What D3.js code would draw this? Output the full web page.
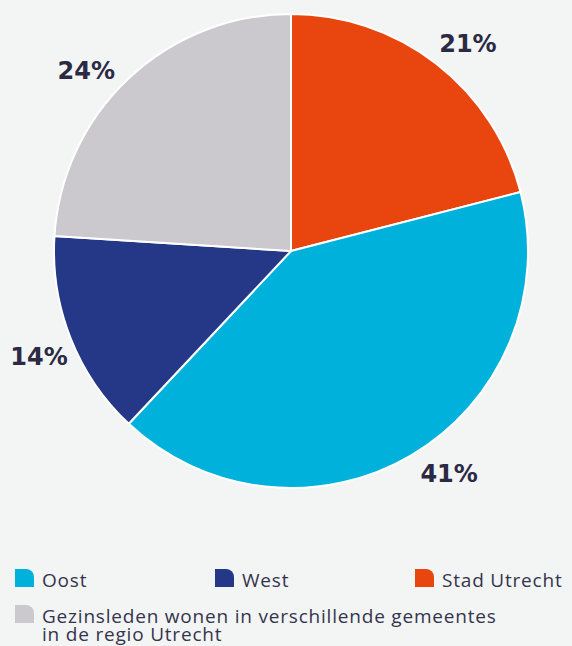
<!DOCTYPE html>
<html>
<head>
<meta charset="utf-8">
<script src="https://cdn.jsdelivr.net/npm/d3@7"></script>
<style>
  body { margin: 0; background: #f3f4f4; }
  svg { display: block; }
  .pct { font-family: "DejaVu Sans", sans-serif; font-weight: bold; font-size: 24px; fill: #2b2a45; }
  .leg { font-family: "Open Sans", sans-serif; font-size: 19px; letter-spacing: 0.8px; fill: #35344d; }
</style>
</head>
<body>
<svg width="572" height="646"></svg>
<script>
// **** data ****
var categories = ["Stad Utrecht", "Oost", "West", "Gezinsleden wonen in verschillende gemeentes in de regio Utrecht"];
var shares = [21, 41, 14, 24];
var colors = ["#e8450f", "#00b2db", "#253787", "#cbc8ce"];

// legend order as in the picture
var legendOrder = [1, 2, 0, 3];
var legendLines = [["Oost"], ["West"], ["Stad Utrecht"], ["Gezinsleden wonen in verschillende gemeentes", "in de regio Utrecht"]];

// small angular nudges (degrees) for the percentage labels, same order as shares
var labelNudge = [2.6, -4.8, -1, -5.4];

var svg = d3.select("svg");
var cx = 291, cy = 251, radius = 237, labelRadius = 273;

var pie = d3.pie().sort(null).value(function(d) { return d; });
var arc = d3.arc().innerRadius(0).outerRadius(radius);

var g = svg.append("g").attr("transform", "translate(" + cx + "," + cy + ")");
var arcs = pie(shares);

g.selectAll("path.slice")
    .data(arcs)
    .enter()
    .append("path")
    .attr("class", "slice")
    .attr("d", arc)
    .attr("fill", function(d, i) { return colors[i]; })
    .attr("stroke", "#ffffff")
    .attr("stroke-width", 2);

g.selectAll("text.pct")
    .data(arcs)
    .enter()
    .append("text")
    .attr("class", "pct")
    .attr("text-anchor", "middle")
    .attr("dy", "0.36em")
    .attr("transform", function(d, i) {
        var a = (d.startAngle + d.endAngle) / 2 + labelNudge[i] * Math.PI / 180;
        return "translate(" + (labelRadius * Math.sin(a)) + "," + (-labelRadius * Math.cos(a)) + ")";
    })
    .text(function(d) { return d.data + "%"; });

// legend
var legendPos = [[15, 569], [215, 569], [415, 569], [15, 605]];
var marker = "M0,0 H11 A8,8 0 0 1 19,8 V18 H0 Z";

legendOrder.forEach(function(ci, k) {
    var p = legendPos[k];
    var lg = svg.append("g").attr("transform", "translate(" + p[0] + "," + p[1] + ")");
    lg.append("path").attr("d", marker).attr("fill", colors[ci]);
    legendLines[k].forEach(function(line, j) {
        lg.append("text").attr("class", "leg")
            .attr("x", 27).attr("y", 17.5 + j * 18.5)
            .text(line);
    });
});
</script>
</body>
</html>
